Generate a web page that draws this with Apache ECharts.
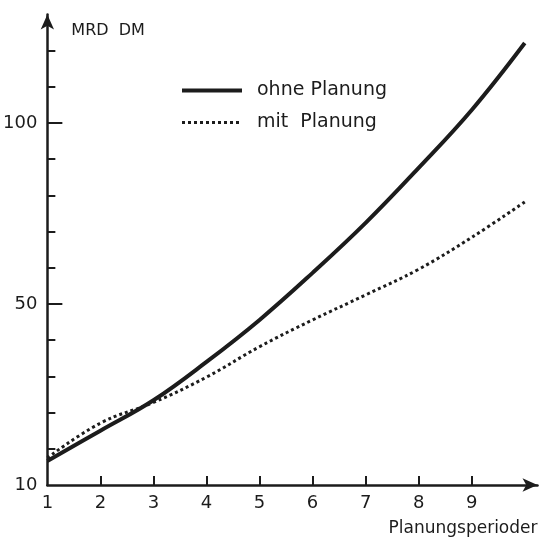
<!DOCTYPE html>
<html>
<head>
<meta charset="utf-8">
<script src="https://cdn.jsdelivr.net/npm/echarts@6/dist/echarts.min.js"></script>
<style>
  html, body { margin: 0; padding: 0; background: #fff; }
  #chart { width: 545px; height: 539px; }
</style>
</head>
<body>
<div id="chart"></div>
<script>
// periods (x) and values
const periods = [1, 2, 3, 4, 5, 6, 7, 8, 9, 10];
const ohnePlanung = [6.6, 15.0, 23.4, 34.0, 45.6, 58.6, 72.4, 87.6, 103.6, 122.1];
const mitPlanung = [7.5, 17.1, 22.8, 29.8, 38.2, 45.6, 52.5, 59.6, 68.4, 78.2];

// tick labels
const xTickValues = [2, 3, 4, 5, 6, 7, 8, 9];
const xLabelValues = [1, 2, 3, 4, 5, 6, 7, 8, 9];
const yMinorTicks = [10, 20, 30, 40, 60, 70, 80, 90, 110, 120];
const yMajorTicks = [50, 100];
const yLabelValues = [0, 50, 100];
const yLabelTexts = ["10", "50", "100"];

const ink = "#1c1c1c";
const font = "DejaVu Sans";

const chart = echarts.init(document.getElementById("chart"));

const pair = (xs, ys) => xs.map((x, i) => [x, ys[i]]);

chart.setOption({
  animation: false,
  backgroundColor: "#fff",
  grid: { left: 46.7, right: 7.5, top: 14.4, bottom: 54 },
  legend: {
    left: 175,
    top: 76,
    orient: "vertical",
    itemWidth: 60,
    itemHeight: 16,
    itemGap: 13,
    itemStyle: { opacity: 0 },
    textStyle: { fontFamily: font, fontSize: 19, color: ink, padding: [0, 0, 0, 10] },
    data: [
      { name: "ohne Planung", lineStyle: { width: 4 } },
      { name: "mit  Planung", lineStyle: { width: 3 } },
    ],
  },
  xAxis: {
    type: "value",
    min: 1,
    max: 10.24,
    axisLine: {
      show: true,
      lineStyle: { color: ink, width: 2.5 },
      symbol: ["none", "arrow"],
      symbolSize: [10, 15],
    },
    axisTick: { show: true, inside: true, length: 9, lineStyle: { color: ink, width: 2 }, customValues: xTickValues },
    axisLabel: { customValues: xLabelValues, color: ink, fontFamily: font, fontSize: 18, margin: 9 },
    splitLine: { show: false },
    name: "Planungsperioder",
    nameLocation: "end",
    nameGap: 0,
    nameTextStyle: { fontFamily: font, fontSize: 17, color: ink, align: "right", verticalAlign: "top", padding: [35, 0, 0, 0] },
  },
  yAxis: [
    {
      type: "value",
      min: 0,
      max: 130,
      axisLine: {
        show: true,
        lineStyle: { color: ink, width: 2.5 },
        symbol: ["none", "arrow"],
        symbolSize: [10, 15],
      },
      axisTick: { show: true, inside: true, length: 8, lineStyle: { color: ink, width: 2 }, customValues: yMinorTicks },
      axisLabel: {
        customValues: yLabelValues,
        color: ink,
        fontFamily: font,
        fontSize: 18,
        margin: 10,
        formatter: (v) => yLabelTexts[yLabelValues.indexOf(v)],
      },
      splitLine: { show: false },
      name: "MRD  DM",
      nameLocation: "end",
      nameGap: 0,
      nameTextStyle: { fontFamily: font, fontSize: 16, color: ink, align: "left", verticalAlign: "top", padding: [8, 0, 0, 24] },
    },
    {
      type: "value",
      min: 0,
      max: 130,
      position: "left",
      axisLine: { show: false },
      axisTick: { show: true, inside: true, length: 15, lineStyle: { color: ink, width: 2 }, customValues: yMajorTicks },
      axisLabel: { show: false },
      splitLine: { show: false },
    },
  ],
  series: [
    {
      name: "ohne Planung",
      type: "line",
      data: pair(periods, ohnePlanung),
      smooth: 0.4,
      symbol: "none",
      lineStyle: { color: ink, width: 4 },
      itemStyle: { color: ink },
    },
    {
      name: "mit  Planung",
      type: "line",
      data: pair(periods, mitPlanung),
      smooth: 0.4,
      symbol: "none",
      lineStyle: { color: ink, width: 3, type: [3, 3] },
      itemStyle: { color: ink },
    },
  ],
});
</script>
</body>
</html>
